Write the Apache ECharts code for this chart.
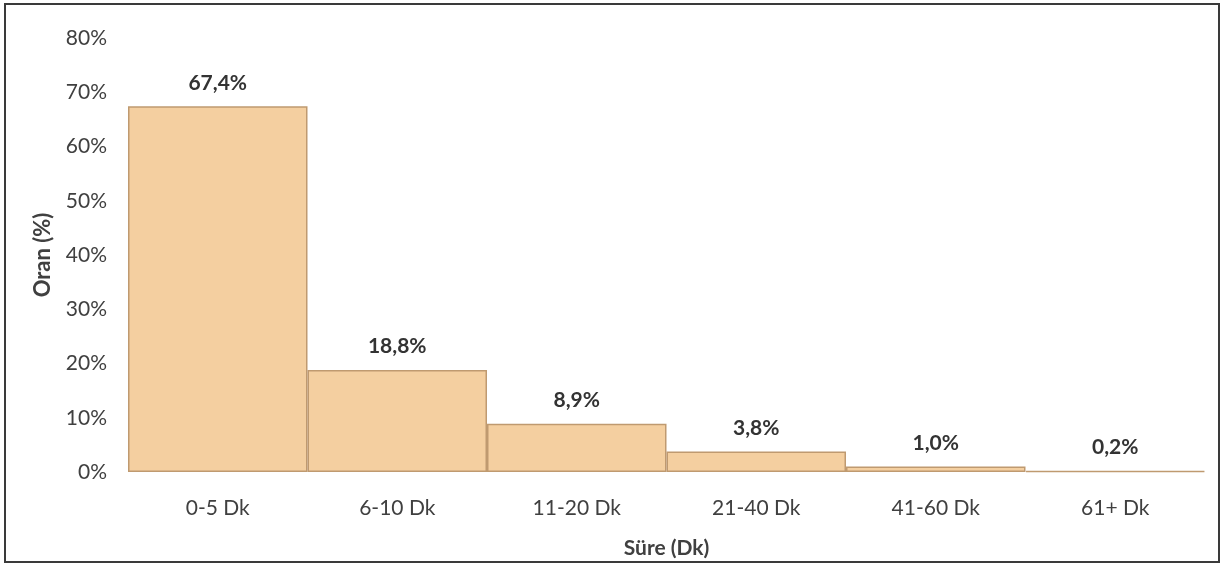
<!DOCTYPE html>
<html><head><meta charset="utf-8">
<script src="https://cdn.jsdelivr.net/npm/echarts@6/dist/echarts.min.js"></script>
<style>html,body{margin:0;padding:0;background:#fff}#c{width:1224px;height:566px}</style>
</head><body><div id="c"></div>
<script>
const categories = ['0-5 Dk','6-10 Dk','11-20 Dk','21-40 Dk','41-60 Dk','61+ Dk'];
const values = [67.4, 18.8, 8.9, 3.8, 1.0, 0.2];
const yTicks = {min:0, max:80, interval:10};
const xTitle = 'Süre (Dk)';
const yTitle = 'Oran (%)';

const chart = echarts.init(document.getElementById('c'));
const font = 'Lato, "Open Sans", sans-serif';
chart.setOption({
  animation:false,
  graphic:[{type:'rect',shape:{x:5,y:4,width:1214,height:558},style:{fill:'none',stroke:'#3a3a3a',lineWidth:2},silent:true}],
  grid:{left:128,right:19,top:38,bottom:94},
  xAxis:{type:'category',data:categories,
    axisLine:{show:false},axisTick:{show:false},
    axisLabel:{color:'#404040',fontSize:21,fontFamily:font,margin:26},
    name:xTitle,nameLocation:'middle',nameGap:66,
    nameTextStyle:{fontSize:21,fontWeight:'bold',color:'#404040',fontFamily:font}},
  yAxis:{type:'value',min:yTicks.min,max:yTicks.max,interval:yTicks.interval,
    splitLine:{show:false},axisLine:{show:false},axisTick:{show:false},
    axisLabel:{color:'#404040',fontSize:21,fontFamily:font,margin:21,formatter:v=>v+'%'},
    name:yTitle,nameLocation:'middle',nameGap:74,
    nameTextStyle:{fontSize:22,fontWeight:'bold',color:'#404040',fontFamily:font}},
  series:[{type:'bar',data:values,barCategoryGap:'0%',
    itemStyle:{color:'#F4CFA0',borderColor:'#BF9A70',borderWidth:1.5},
    label:{show:true,position:'top',distance:13,fontSize:21,fontWeight:'bold',color:'#333',fontFamily:font,
      formatter:p=>p.value.toFixed(1).replace('.',',')+'%'}}]
});
</script></body></html>
